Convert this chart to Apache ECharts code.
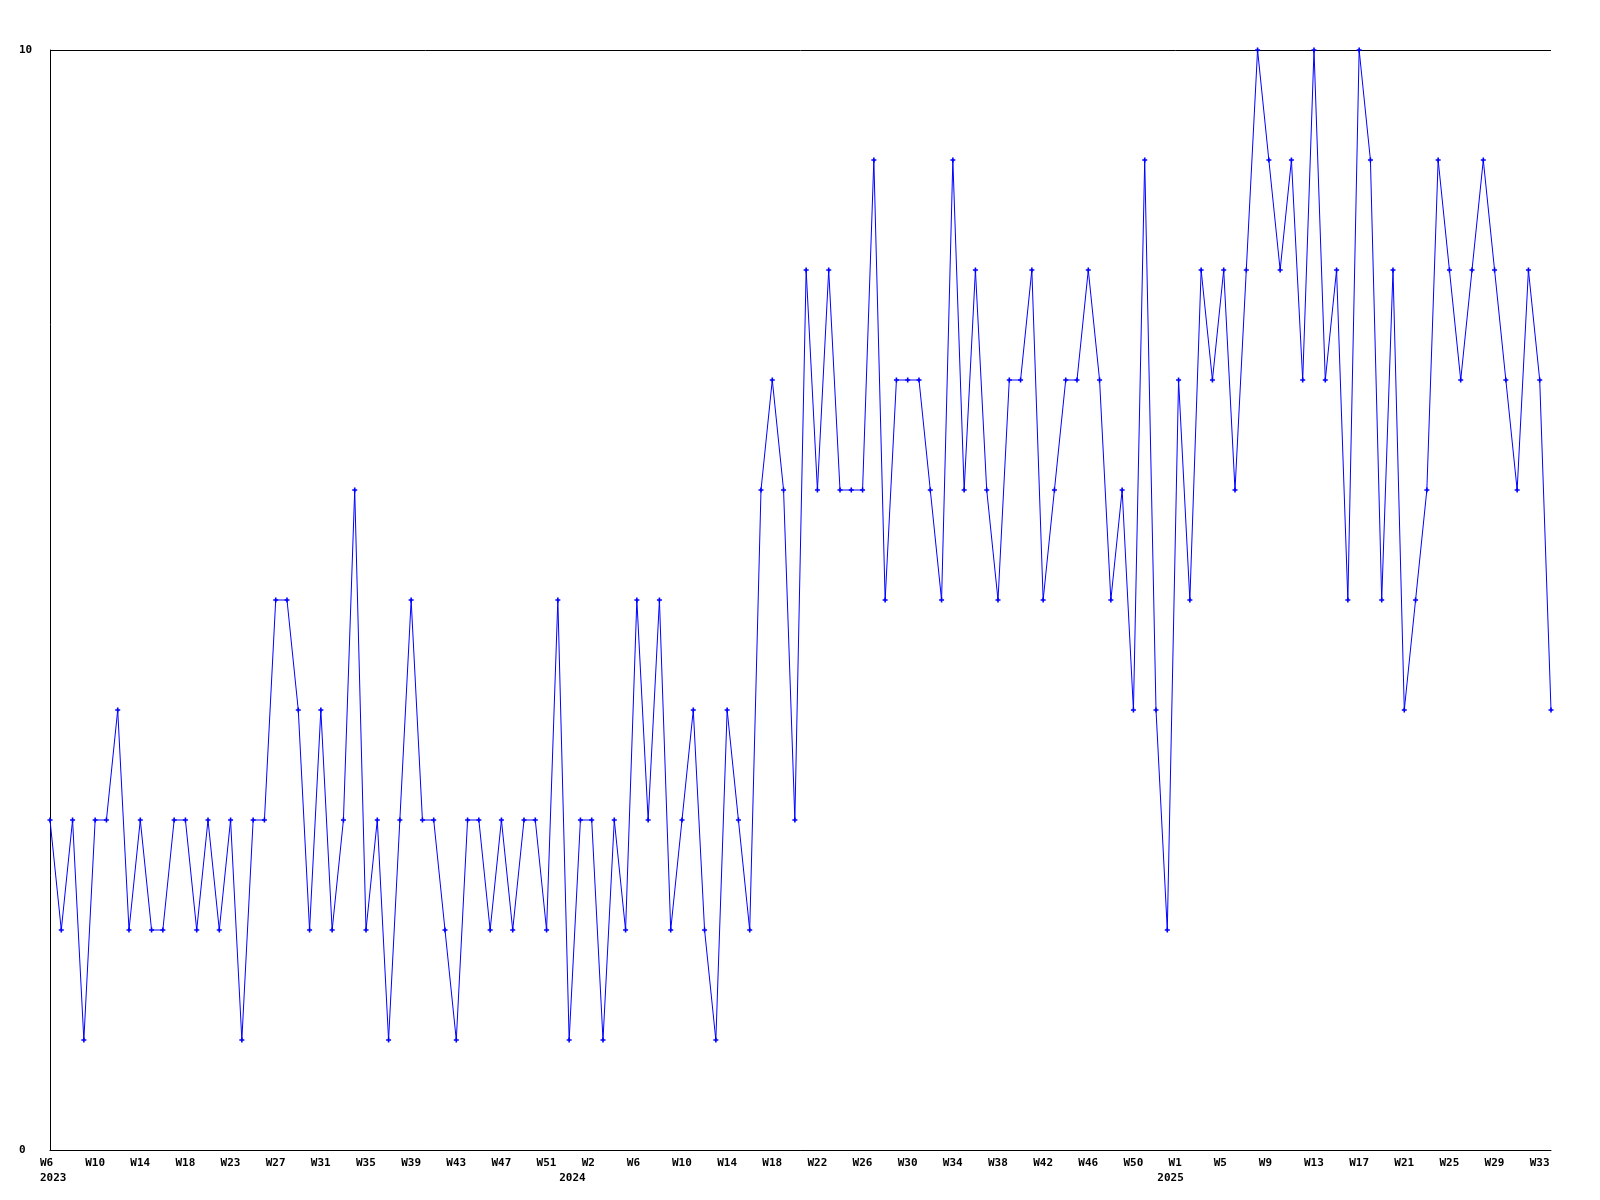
<!DOCTYPE html>
<html>
<head>
<meta charset="utf-8">
<script src="https://cdn.jsdelivr.net/npm/echarts@6/dist/echarts.min.js"></script>
<style>
html,body{margin:0;padding:0;background:#fff;}
#chart{width:1600px;height:1200px;}
</style>
</head>
<body>
<div id="chart"></div>
<script>
// Week categories (year-week)
const weeks = [
  "2023-W06","2023-W07","2023-W08","2023-W09","2023-W10","2023-W11","2023-W12","2023-W13","2023-W14","2023-W15",
  "2023-W16","2023-W17","2023-W18","2023-W20","2023-W21","2023-W22","2023-W23","2023-W24","2023-W25","2023-W26",
  "2023-W27","2023-W28","2023-W29","2023-W30","2023-W31","2023-W32","2023-W33","2023-W34","2023-W35","2023-W36",
  "2023-W37","2023-W38","2023-W39","2023-W40","2023-W41","2023-W42","2023-W43","2023-W44","2023-W45","2023-W46",
  "2023-W47","2023-W48","2023-W49","2023-W50","2023-W51","2023-W52",
  "2024-W00","2024-W01","2024-W02","2024-W03","2024-W04","2024-W05","2024-W06","2024-W07","2024-W08","2024-W09",
  "2024-W10","2024-W11","2024-W12","2024-W13","2024-W14","2024-W15","2024-W16","2024-W17","2024-W18","2024-W19",
  "2024-W20","2024-W21","2024-W22","2024-W23","2024-W24","2024-W25","2024-W26","2024-W27","2024-W28","2024-W29",
  "2024-W30","2024-W31","2024-W32","2024-W33","2024-W34","2024-W35","2024-W36","2024-W37","2024-W38","2024-W39",
  "2024-W40","2024-W41","2024-W42","2024-W43","2024-W44","2024-W45","2024-W46","2024-W47","2024-W48","2024-W49",
  "2024-W50","2024-W51","2024-W52",
  "2025-W00","2025-W01","2025-W02","2025-W03","2025-W04","2025-W05","2025-W06","2025-W07","2025-W08","2025-W09",
  "2025-W10","2025-W11","2025-W12","2025-W13","2025-W14","2025-W15","2025-W16","2025-W17","2025-W18","2025-W19",
  "2025-W20","2025-W21","2025-W22","2025-W23","2025-W24","2025-W25","2025-W26","2025-W27","2025-W28","2025-W29",
  "2025-W30","2025-W31","2025-W32","2025-W33","2025-W34"
];

// Weekly values
const values = [
  3,2,3,1,3,3,4,2,3,2,
  2,3,3,2,3,2,3,1,3,3,
  5,5,4,2,4,2,3,6,2,3,
  1,3,5,3,3,2,1,3,3,2,
  3,2,3,3,2,5,1,3,3,1,
  3,2,5,3,5,2,3,4,2,1,
  4,3,2,6,7,6,3,8,6,8,
  6,6,6,9,5,7,7,7,6,5,
  9,6,8,6,5,7,7,8,5,6,
  7,7,8,7,5,6,4,9,4,2,
  7,5,8,7,8,6,8,10,9,8,
  9,7,10,7,8,5,10,9,5,8,
  4,5,6,9,8,7,8,9,8,7,
  6,8,7,4
];

// Y axis range / tick labels
const yMin = 0;
const yMax = 10;
const yStep = 10;

const yearOf = s => s.split('-W')[0];
const isYearStart = i => i === 0 || yearOf(weeks[i]) !== yearOf(weeks[i - 1]);

const font = { fontFamily: 'DejaVu Sans Mono', fontWeight: 'bold', fontSize: 11, color: '#000' };
const richLeft = { t: Object.assign({}, font, { width: 20, align: 'left' }) };

const chart = echarts.init(document.getElementById('chart'));
chart.setOption({
  animation: false,
  backgroundColor: '#fff',
  grid: { left: 50, right: 49, top: 50, bottom: 50, containLabel: false },
  xAxis: [{
    type: 'category',
    data: weeks,
    boundaryGap: false,
    axisLine: { show: true, lineStyle: { color: '#000', width: 1 } },
    axisTick: { show: false },
    splitLine: { show: false },
    axisLabel: Object.assign({}, font, {
      interval: 3,
      margin: 6,
      lineHeight: 15,
      rich: richLeft,
      formatter: function (v) {
        return '{t|W' + parseInt(v.split('-W')[1], 10) + '}';
      }
    })
  }, {
    type: 'category',
    data: weeks,
    boundaryGap: false,
    position: 'bottom',
    axisLine: { show: false },
    axisTick: { show: false },
    splitLine: { show: false },
    axisLabel: Object.assign({}, font, {
      interval: function (i) { return isYearStart(i); },
      margin: 21,
      lineHeight: 15,
      rich: richLeft,
      formatter: function (v) { return '{t|' + yearOf(v) + '}'; }
    })
  }],
  yAxis: {
    type: 'value',
    min: yMin,
    max: yMax,
    interval: yStep,
    axisLine: { show: true, lineStyle: { color: '#000', width: 1 } },
    axisTick: { show: false },
    splitLine: { show: true, lineStyle: { color: '#000', width: 1 } },
    axisLabel: Object.assign({}, font, { align: 'left', margin: 31 })
  },
  series: [{
    type: 'line',
    data: values,
    xAxisIndex: 0,
    symbol: 'path://M1.7,0L3.3,0L3.3,1.7L5,1.7L5,3.3L3.3,3.3L3.3,5L1.7,5L1.7,3.3L0,3.3L0,1.7L1.7,1.7Z',
    symbolSize: 5,
    showAllSymbol: true,
    itemStyle: { color: '#0000ff' },
    lineStyle: { color: '#0000ff', width: 1 }
  }]
});
</script>
</body>
</html>
